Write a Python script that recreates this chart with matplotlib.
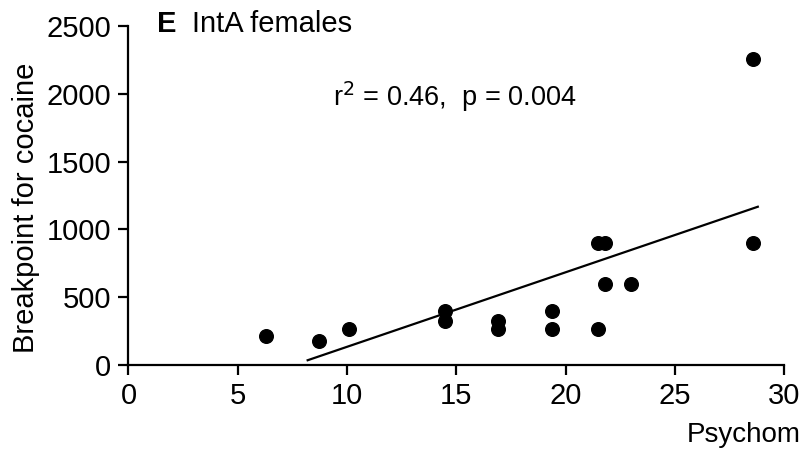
import matplotlib
matplotlib.use('Agg')
import matplotlib.pyplot as plt

plt.rcParams['font.family'] = ['Liberation Sans', 'DejaVu Sans']

# data
psychomotor = [6.3, 8.7, 10.1, 14.5, 14.5, 16.9, 16.9, 19.4, 19.4, 21.5, 21.5, 21.8, 21.8, 23.0, 28.6, 28.6]
breakpoint_ = [215, 175, 265, 400, 325, 325, 265, 400, 265, 265, 900, 900, 600, 600, 2260, 900]

# regression line endpoints
fit_x = [8.2, 28.8]
fit_y = [35, 1167]

FS = 21

fig = plt.figure(figsize=(8.02, 4.53), dpi=100)
ax = fig.add_axes([0.1602, 0.1943, 0.8174, 0.7483])

ax.plot(psychomotor, breakpoint_, 'o', color='black', markersize=9.8, clip_on=False, zorder=3)
ax.plot(fit_x, fit_y, color='black', linewidth=1.6)

ax.set_xlim(0, 30)
ax.set_ylim(0, 2500)
ax.set_xticks([0, 5, 10, 15, 20, 25, 30])
ax.set_yticks([0, 500, 1000, 1500, 2000, 2500])

for s in ['top', 'right']:
    ax.spines[s].set_visible(False)
for s in ['left', 'bottom']:
    ax.spines[s].set_linewidth(1.6)

ax.tick_params(direction='out', length=7.5, width=1.6, labelsize=FS, pad=5)

# y label sits a bit below the axes centre in the original
fig.text(26 / 802, 1 - 208 / 453, 'Breakpoint for cocaine', fontsize=FS,
         rotation=90, ha='center', va='center')

# x label is cut by the figure edge in the original, only "Psychom" shows
fig.text(687 / 802, 1 - 442 / 453, 'Psychom', fontsize=20, ha='left', va='baseline')

# panel title
fig.text(157 / 802, 1 - 32 / 453, 'E', fontsize=FS, fontweight='bold', ha='left', va='baseline')
fig.text(192 / 802, 1 - 32 / 453, 'IntA females', fontsize=FS, ha='left', va='baseline')

ax.text(0.3125, 0.79, r'r$^2$ = 0.46,  p = 0.004', transform=ax.transAxes,
        fontsize=19.5, ha='left', va='center')

fig.savefig('out.png', dpi=100)
